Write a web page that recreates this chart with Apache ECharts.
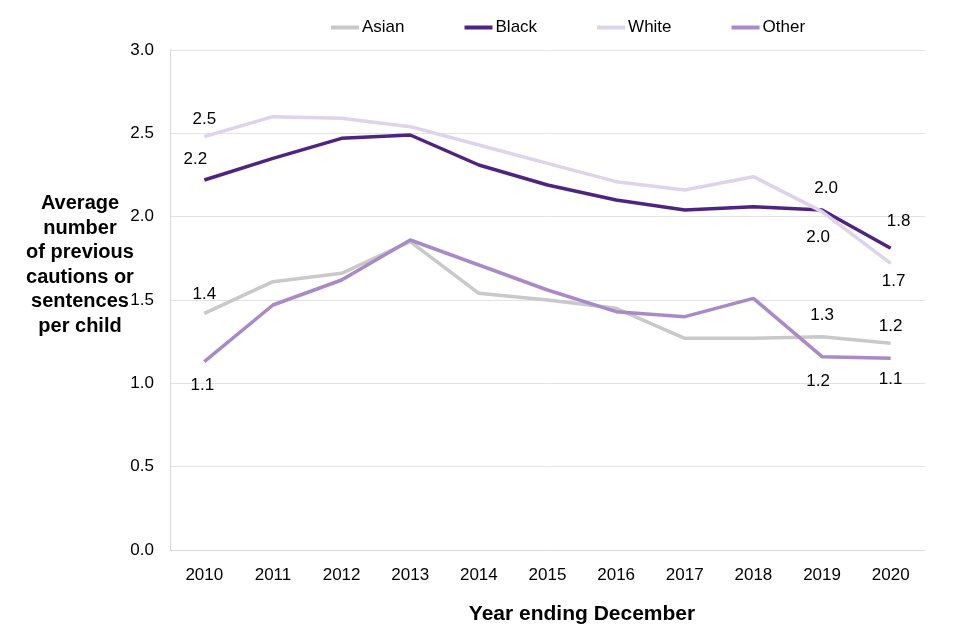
<!DOCTYPE html>
<html>
<head>
<meta charset="utf-8">
<script src="https://cdn.jsdelivr.net/npm/echarts@6/dist/echarts.min.js"></script>
<style>html,body{margin:0;padding:0;background:#fff}#c{width:960px;height:640px}</style>
</head>
<body>
<div id="c"></div>
<script>
var years = ['2010','2011','2012','2013','2014','2015','2016','2017','2018','2019','2020'];
var asian = [1.42, 1.61, 1.66, 1.85, 1.54, 1.50, 1.45, 1.27, 1.27, 1.28, 1.24];
var black = [2.22, 2.35, 2.47, 2.49, 2.31, 2.19, 2.10, 2.04, 2.06, 2.04, 1.81];
var white = [2.48, 2.60, 2.59, 2.54, 2.43, 2.32, 2.21, 2.16, 2.24, 2.03, 1.72];
var other = [1.13, 1.47, 1.62, 1.86, 1.71, 1.56, 1.43, 1.40, 1.51, 1.16, 1.15];
var labelIdx = [0, 9, 10];
var seriesNames = ['Asian', 'Black', 'White', 'Other'];
var colors = ['#c9c9c9', '#4e2382', '#ddd3ea', '#a98ac8'];
var labelPos = {Asian: ['top','top','top'], Black: ['top','top','top'], White: ['top','bottom','bottom'], Other: ['bottom','bottom','bottom']};
var labelOff = {
  Asian: [[0, -2], [0, -4], [0, 0]],
  Black: [[-9, -3], [4, -4], [8, -10]],
  White: [[0, 0], [-4, 8], [3, 0]],
  Other: [[-2, 6], [-4, 7], [0, 3]]
};

function build(name, vals, color) {
  var data = vals.map(function (v, i) {
    var k = labelIdx.indexOf(i);
    if (k < 0) return {value: v, label: {show: false}};
    return {value: v, label: {show: true, position: labelPos[name][k], distance: 9, offset: labelOff[name][k]}};
  });
  return {
    name: name, type: 'line', data: data, symbol: 'circle', symbolSize: 0.01, showSymbol: true,
    lineStyle: {color: color, width: 3.5}, itemStyle: {color: color},
    label: {color: '#000', fontSize: 17, fontFamily: 'Liberation Sans',
      formatter: function (p) { return p.value.toFixed(1); }},
    emphasis: {disabled: true}, animation: false
  };
}

var chart = echarts.init(document.getElementById('c'));
chart.setOption({
  animation: false,
  textStyle: {fontFamily: 'Liberation Sans'},
  grid: {left: 170, right: 35, top: 50, bottom: 90},
  legend: {
    top: 14, left: 326, itemGap: 60, itemWidth: 28, itemHeight: 4, icon: 'rect',
    textStyle: {fontSize: 17, color: '#000', padding: [0, 0, 0, -2]},
    data: seriesNames
  },
  xAxis: {
    type: 'category', data: years, boundaryGap: true,
    axisLine: {lineStyle: {color: '#d9d9d9'}}, axisTick: {show: false},
    axisLabel: {color: '#000', fontSize: 17, margin: 17}
  },
  yAxis: {
    type: 'value', min: 0, max: 3, interval: 0.5,
    axisLine: {show: true, lineStyle: {color: '#d9d9d9'}}, axisTick: {show: false},
    splitLine: {lineStyle: {color: '#e3e3e3'}},
    axisLabel: {color: '#000', fontSize: 17, margin: 16, formatter: function (v) { return v.toFixed(1); }}
  },
  graphic: [{
    type: 'text', x: 80, y: 265,
    style: {
      text: 'Average\nnumber\nof previous\ncautions or\nsentences\nper child',
      align: 'center', verticalAlign: 'middle',
      fontSize: 20, fontWeight: 'bold', lineHeight: 24.6, fill: '#000', fontFamily: 'Liberation Sans'
    }
  }, {
    type: 'text', x: 582, y: 614,
    style: {
      text: 'Year ending December', align: 'center', verticalAlign: 'middle',
      fontSize: 21, fontWeight: 'bold', fill: '#000', fontFamily: 'Liberation Sans'
    }
  }],
  series: [
    build('Asian', asian, colors[0]),
    build('Black', black, colors[1]),
    build('White', white, colors[2]),
    build('Other', other, colors[3])
  ]
});
</script>
</body>
</html>
